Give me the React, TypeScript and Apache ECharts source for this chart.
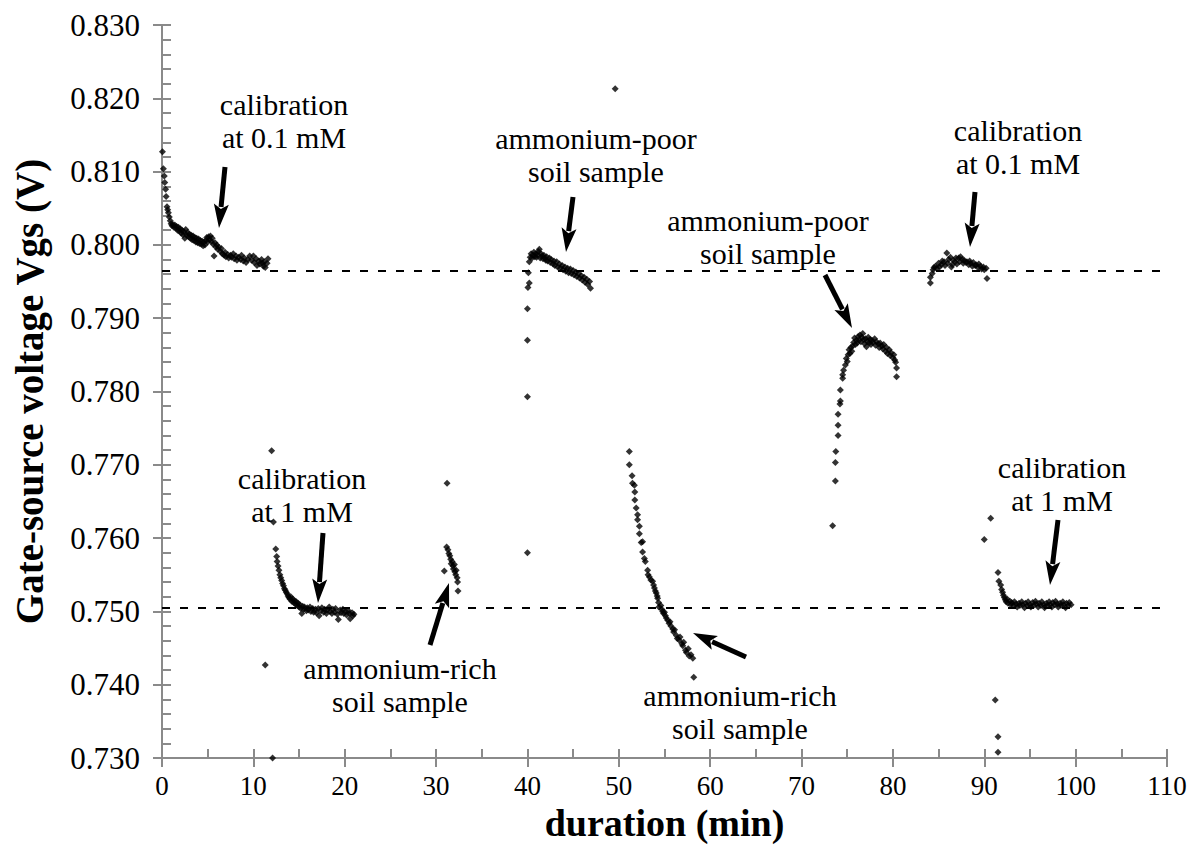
import React, { useEffect, useRef } from "react";
import * as echarts from "echarts";

// duration (min), Vgs (V)
const segCal01a: number[][] = [
  [0.05,0.8127],[0.15,0.8104],[0.25,0.8094],[0.3,0.8085],[0.4,0.8076],[0.45,0.8066],[0.55,0.8052],[0.62,0.8048],[0.7,0.8044],[0.8,0.8038],[0.9,0.8033],[1.0,0.8029],[1.1,0.8026],[1.2,0.8028],[1.3,0.8024],[1.4,0.8027],[1.5,0.8023],[1.6,0.8025],[1.7,0.8020],[1.8,0.8024],[1.9,0.8019],[2.0,0.8022],[2.1,0.8016],[2.2,0.8020],[2.3,0.8014],[2.4,0.8018],[2.5,0.8009],[2.6,0.8021],[2.7,0.8013],[2.8,0.8017],[2.9,0.8011],[3.0,0.8015],[3.1,0.8009],[3.2,0.8013],[3.3,0.8007],[3.4,0.8012],[3.5,0.8006],[3.6,0.8010],[3.7,0.8004],[3.8,0.8009],[3.9,0.8003],[4.0,0.8008],[4.1,0.8002],[4.2,0.8006],[4.3,0.8001],[4.4,0.8005],[4.5,0.7999],[4.6,0.8004],[4.7,0.8000],[4.8,0.8006],[4.9,0.8010],[5.0,0.8004],[5.1,0.8011],[5.2,0.8007],[5.3,0.8012],[5.4,0.8005],[5.5,0.8009],[5.6,0.8001],[5.7,0.7985],[5.8,0.8003],[5.9,0.7997],[6.0,0.8000],[6.1,0.7994],[6.2,0.7997],[6.4,0.7991],[6.5,0.7995],[6.6,0.7988],[6.8,0.7986],[6.9,0.7990],[7.0,0.7984],[7.2,0.7987],[7.3,0.7982],[7.5,0.7986],[7.6,0.7983],[7.8,0.7988],[7.9,0.7981],[8.1,0.7985],[8.2,0.7979],[8.4,0.7983],[8.6,0.7980],[8.7,0.7986],[8.9,0.7978],[9.0,0.7982],[9.2,0.7976],[9.4,0.7980],[9.6,0.7985],[9.8,0.7979],[10.0,0.7985],[10.1,0.7976],[10.3,0.7981],[10.4,0.7972],[10.6,0.7978],[10.7,0.7974],[10.9,0.7980],[11.0,0.7975],[11.1,0.7971],[11.2,0.7977],[11.3,0.7969],[11.5,0.7975],[11.6,0.7981]
];
const segCal1a: number[][] = [
  [11.3,0.7427],[12.0,0.7719],[12.1,0.7300],[12.2,0.7622],[12.45,0.7585],[12.55,0.7575],[12.6,0.7568],[12.7,0.7562],[12.8,0.7556],[12.9,0.7550],[13.0,0.7546],[13.1,0.7542],[13.2,0.7538],[13.3,0.7535],[13.4,0.7531],[13.5,0.7529],[13.6,0.7526],[13.7,0.7524],[13.8,0.7521],[13.9,0.7519],[14.0,0.7517],[14.1,0.7520],[14.2,0.7514],[14.3,0.7517],[14.4,0.7512],[14.5,0.7515],[14.6,0.7510],[14.7,0.7513],[14.8,0.7508],[14.9,0.7511],[15.0,0.7506],[15.1,0.7509],[15.2,0.7504],[15.3,0.7497],[15.4,0.7507],[15.5,0.7503],[15.6,0.7506],[15.8,0.7501],[15.9,0.7505],[16.0,0.7502],[16.2,0.7506],[16.3,0.7500],[16.5,0.7504],[16.6,0.7499],[16.8,0.7503],[16.9,0.7498],[17.1,0.7504],[17.2,0.7494],[17.4,0.7501],[17.5,0.7505],[17.7,0.7499],[17.8,0.7503],[18.0,0.7497],[18.1,0.7502],[18.3,0.7506],[18.4,0.7500],[18.6,0.7497],[18.7,0.7503],[18.9,0.7499],[19.0,0.7504],[19.2,0.7496],[19.3,0.7489],[19.5,0.7502],[19.6,0.7498],[19.8,0.7503],[19.9,0.7497],[20.1,0.7500],[20.2,0.7495],[20.4,0.7501],[20.5,0.7497],[20.6,0.7490],[20.8,0.7498],[20.9,0.7494],[21.0,0.7496]
];
const segRichA: number[][] = [
  [31.2,0.7675],[31.15,0.7588],[31.3,0.7584],[31.4,0.7579],[30.9,0.7555],[31.5,0.7576],[31.6,0.7571],[31.65,0.7565],[31.75,0.7568],[31.85,0.7562],[31.9,0.7558],[32.0,0.7564],[32.05,0.7554],[32.15,0.7550],[32.2,0.7556],[32.3,0.7546],[32.35,0.7540],[32.4,0.7528]
];
const segPoorA: number[][] = [
  [40.0,0.7580],[40.0,0.7793],[40.0,0.7870],[40.0,0.7913],[40.05,0.7942],[40.2,0.7948],[40.1,0.7962],[40.2,0.7977],[40.3,0.7983],[40.4,0.7988],[40.5,0.7982],[40.6,0.7986],[40.7,0.7990],[40.8,0.7984],[40.9,0.7988],[41.0,0.7983],[41.1,0.7987],[41.2,0.7991],[41.3,0.7994],[41.4,0.7982],[41.5,0.7988],[41.6,0.7985],[41.7,0.7981],[41.8,0.7986],[41.9,0.7982],[42.0,0.7979],[42.1,0.7984],[42.2,0.7978],[42.4,0.7982],[42.5,0.7976],[42.6,0.7980],[42.8,0.7974],[42.9,0.7978],[43.0,0.7972],[43.2,0.7977],[43.3,0.7970],[43.5,0.7974],[43.6,0.7968],[43.8,0.7972],[43.9,0.7966],[44.1,0.7970],[44.2,0.7964],[44.4,0.7968],[44.5,0.7962],[44.7,0.7967],[44.8,0.7961],[45.0,0.7965],[45.1,0.7959],[45.3,0.7963],[45.4,0.7957],[45.6,0.7961],[45.7,0.7955],[45.9,0.7958],[46.0,0.7952],[46.2,0.7956],[46.3,0.7949],[46.5,0.7953],[46.6,0.7946],[46.8,0.7950],[46.9,0.7941],
  [49.6,0.8213]
];
const segRichB: number[][] = [
  [51.15,0.7718],[51.15,0.7700],[51.45,0.7685],[51.5,0.7675],[51.7,0.7672],[51.75,0.7663],[51.75,0.7652],[51.9,0.7641],[52.05,0.7632],[52.05,0.7625],[52.25,0.7616],[52.25,0.7606],[52.45,0.7594],[52.6,0.7595],[52.6,0.7581],[52.8,0.7572],[52.9,0.7568],[53.15,0.7556],[53.2,0.7550],[53.35,0.7547],[53.5,0.7543],[53.7,0.7541],[53.8,0.7536],[53.9,0.7532],[54.0,0.7528],[54.1,0.7525],[54.2,0.7521],[54.25,0.7518],[54.35,0.7512],[54.4,0.7506],[54.6,0.7508],[54.7,0.7503],[54.8,0.7500],[54.9,0.7497],[55.0,0.7499],[55.1,0.7494],[55.2,0.7491],[55.35,0.7488],[55.5,0.7484],[55.6,0.7486],[55.7,0.7480],[55.9,0.7476],[56.0,0.7472],[56.1,0.7475],[56.3,0.7467],[56.4,0.7463],[56.6,0.7461],[56.7,0.7465],[56.9,0.7456],[57.0,0.7453],[57.1,0.7458],[57.3,0.7447],[57.4,0.7444],[57.6,0.7449],[57.7,0.7439],[57.9,0.7441],[58.1,0.7436],[58.2,0.7410]
];
const segPoorB: number[][] = [
  [73.4,0.7617],[73.7,0.7678],[73.7,0.7703],[73.75,0.7718],[74.0,0.7740],[74.0,0.7754],[74.0,0.7769],[74.2,0.7783],[74.25,0.7787],[74.25,0.7802],[74.5,0.7818],[74.5,0.7823],[74.6,0.7829],[74.8,0.7836],[74.9,0.7845],[75.0,0.7841],[75.1,0.7850],[75.2,0.7857],[75.3,0.7852],[75.4,0.7860],[75.5,0.7855],[75.6,0.7862],[75.7,0.7867],[75.8,0.7873],[75.9,0.7864],[76.0,0.7870],[76.1,0.7866],[76.2,0.7875],[76.3,0.7870],[76.4,0.7877],[76.5,0.7868],[76.6,0.7874],[76.7,0.7879],[76.8,0.7871],[76.9,0.7865],[77.0,0.7872],[77.1,0.7861],[77.2,0.7868],[77.3,0.7874],[77.4,0.7866],[77.5,0.7871],[77.6,0.7864],[77.7,0.7870],[77.8,0.7867],[78.0,0.7872],[78.1,0.7863],[78.2,0.7868],[78.4,0.7865],[78.5,0.7860],[78.6,0.7866],[78.8,0.7862],[78.9,0.7858],[79.0,0.7864],[79.2,0.7855],[79.3,0.7860],[79.4,0.7852],[79.6,0.7857],[79.7,0.7849],[79.8,0.7853],[80.0,0.7846],[80.1,0.7850],[80.2,0.7843],[80.3,0.7840],[80.4,0.7832],[80.4,0.7820]
];
const segCal01b: number[][] = [
  [84.1,0.7956],[84.1,0.7948],[84.3,0.7961],[84.4,0.7966],[84.5,0.7969],[84.65,0.7971],[84.8,0.7968],[85.0,0.7975],[85.1,0.7970],[85.3,0.7973],[85.4,0.7978],[85.6,0.7977],[85.7,0.7972],[85.9,0.7989],[86.0,0.7975],[86.1,0.7980],[86.3,0.7983],[86.4,0.7970],[86.5,0.7973],[86.6,0.7979],[86.8,0.7977],[86.9,0.7982],[87.0,0.7974],[87.2,0.7982],[87.3,0.7977],[87.4,0.7984],[87.6,0.7980],[87.7,0.7975],[87.8,0.7979],[88.0,0.7976],[88.1,0.7977],[88.3,0.7973],[88.4,0.7978],[88.5,0.7975],[88.7,0.7971],[88.8,0.7976],[89.0,0.7972],[89.1,0.7973],[89.3,0.7969],[89.4,0.7974],[89.6,0.7971],[89.7,0.7967],[89.9,0.7970],[90.0,0.7966],[90.2,0.7968],[90.3,0.7954]
];
const segCal1b: number[][] = [
  [90.0,0.7598],[90.7,0.7627],[91.2,0.7379],[91.5,0.7329],[91.5,0.7308],[91.5,0.7553],[91.6,0.7541],[91.8,0.7536],[91.9,0.7530],[92.0,0.7526],[92.1,0.7522],[92.2,0.7519],[92.3,0.7516],[92.4,0.7513],[92.5,0.7517],[92.6,0.7511],[92.8,0.7514],[92.9,0.7509],[93.0,0.7512],[93.2,0.7508],[93.3,0.7513],[93.5,0.7510],[93.6,0.7506],[93.8,0.7511],[93.9,0.7508],[94.1,0.7513],[94.2,0.7509],[94.4,0.7505],[94.5,0.7511],[94.7,0.7508],[94.8,0.7513],[95.0,0.7509],[95.1,0.7506],[95.3,0.7512],[95.4,0.7508],[95.6,0.7514],[95.7,0.7510],[95.9,0.7506],[96.0,0.7511],[96.2,0.7508],[96.3,0.7513],[96.5,0.7509],[96.6,0.7505],[96.8,0.7511],[96.9,0.7508],[97.1,0.7513],[97.2,0.7509],[97.4,0.7506],[97.5,0.7512],[97.7,0.7509],[97.8,0.7514],[98.0,0.7510],[98.1,0.7506],[98.3,0.7511],[98.4,0.7508],[98.6,0.7513],[98.7,0.7509],[98.9,0.7505],[99.0,0.7511],[99.2,0.7508],[99.3,0.7512],[99.5,0.7509]
];
const referenceLevels: number[] = [0.7965, 0.7505];

// annotation texts (centre of first line in px) and arrows (tail -> tip in px)
const labels: { lines: string[]; x: number; y: number }[] = [
  { lines: ["calibration", "at 0.1 mM"], x: 284, y: 104 },
  { lines: ["calibration", "at 1 mM"], x: 302, y: 478 },
  { lines: ["ammonium-rich", "soil sample"], x: 400, y: 668 },
  { lines: ["ammonium-poor", "soil sample"], x: 596, y: 138 },
  { lines: ["ammonium-poor", "soil sample"], x: 768, y: 220 },
  { lines: ["calibration", "at 0.1 mM"], x: 1018, y: 130 },
  { lines: ["ammonium-rich", "soil sample"], x: 740, y: 695 },
  { lines: ["calibration", "at 1 mM"], x: 1062, y: 467 },
];
const arrows: number[][] = [
  [225, 167, 219, 228],
  [323, 533, 318, 603],
  [430, 645, 449, 583],
  [573, 197, 566, 252],
  [825, 275, 852, 328],
  [975, 192, 970, 247],
  [746, 657, 693, 633],
  [1058, 520, 1050, 585],
];

const FONT = "Liberation Serif, Times New Roman, serif";
const AXIS_GRAY = "#8a8a8a";

function arrowGraphic(a: number[]) {
  const [x1, y1, x2, y2] = a;
  const dx = x2 - x1, dy = y2 - y1;
  const len = Math.sqrt(dx * dx + dy * dy);
  const ux = dx / len, uy = dy / len;
  const headLen = 24, headHalf = 7.5;
  const bx = x2 - ux * headLen, by = y2 - uy * headLen;
  const px = -uy, py = ux;
  return {
    type: "group",
    children: [
      { type: "line", shape: { x1, y1, x2: bx + ux * 3, y2: by + uy * 3 }, style: { stroke: "#000", lineWidth: 5 } },
      {
        type: "polygon",
        shape: { points: [[x2, y2], [bx + px * headHalf, by + py * headHalf], [bx + ux * 5, by + uy * 5], [bx - px * headHalf, by - py * headHalf]] },
        style: { fill: "#000" },
      },
    ],
  };
}

export default function App() {
  const ref = useRef<HTMLDivElement>(null);
  useEffect(() => {
    document.body.style.margin = "0";
    const chart = echarts.init(ref.current!, null, { renderer: "svg" });
    const gridRect = { left: 162, right: 25, top: 25, bottom: 93 };
    const mkSeries = (data: number[][], extra: any = {}) => ({
      type: "scatter",
      xAxisIndex: 0,
      yAxisIndex: 0,
      data,
      symbol: "diamond",
      symbolSize: 7,
      itemStyle: { color: "#000" },
      silent: true,
      ...extra,
    });
    const graphics: any[] = [];
    labels.forEach((l) => {
      l.lines.forEach((t, i) => {
        graphics.push({
          type: "text",
          style: { text: t, x: l.x, y: l.y + i * 33, align: "center", verticalAlign: "middle", font: `30px ${FONT}`, fill: "#000" },
        });
      });
    });
    arrows.forEach((a) => graphics.push(arrowGraphic(a)));

    chart.setOption({
      animation: false,
      backgroundColor: "#fff",
      grid: [
        { ...gridRect },
        { ...gridRect },
      ],
      xAxis: [
        {
          gridIndex: 0,
          type: "value",
          min: 0,
          max: 110,
          interval: 10,
          axisLine: { show: true, lineStyle: { color: AXIS_GRAY, width: 2 } },
          axisTick: { show: true, length: 9, lineStyle: { color: AXIS_GRAY, width: 2 } },
          axisLabel: { fontFamily: FONT, fontSize: 27, color: "#000", margin: 14 },
          splitLine: { show: false },
          name: "duration (min)",
          nameLocation: "middle",
          nameGap: 45,
          nameTextStyle: { fontFamily: FONT, fontSize: 38, fontWeight: "bold", color: "#000" },
        },
        {
          gridIndex: 1,
          type: "value",
          position: "bottom",
          min: 0,
          max: 110,
          interval: 10,
          axisLine: { show: true, lineStyle: { color: AXIS_GRAY, width: 2 } },
          axisTick: { show: true, inside: true, length: 9, lineStyle: { color: AXIS_GRAY, width: 2 } },
          minorTick: { show: true, splitNumber: 2, length: 9, lineStyle: { color: AXIS_GRAY, width: 2 } },
          axisLabel: { show: false },
          splitLine: { show: false },
        },
      ],
      yAxis: [
        {
          gridIndex: 0,
          type: "value",
          min: 0.73,
          max: 0.83,
          interval: 0.01,
          axisLine: { show: true, lineStyle: { color: AXIS_GRAY, width: 2 } },
          axisTick: { show: true, length: 9, lineStyle: { color: AXIS_GRAY, width: 2 } },
          axisLabel: { fontFamily: FONT, fontSize: 31, color: "#000", margin: 22, formatter: (v: number) => v.toFixed(3) },
          splitLine: { show: false },
          name: "Gate-source voltage Vgs (V)",
          nameLocation: "middle",
          nameGap: 113,
          nameTextStyle: { fontFamily: FONT, fontSize: 39, fontWeight: "bold", color: "#000" },
        },
        {
          gridIndex: 1,
          type: "value",
          position: "left",
          min: 0.73,
          max: 0.83,
          interval: 0.01,
          axisLine: { show: true, lineStyle: { color: AXIS_GRAY, width: 2 } },
          axisTick: { show: true, inside: true, length: 9, lineStyle: { color: AXIS_GRAY, width: 2 } },
          minorTick: { show: true, splitNumber: 5, length: 9, lineStyle: { color: AXIS_GRAY, width: 2 } },
          axisLabel: { show: false },
          splitLine: { show: false },
        },
      ],
      series: [
        mkSeries(segCal01a, {
          markLine: {
            silent: true,
            symbol: "none",
            precision: 4,
            label: { show: false },
            lineStyle: { color: "#000", type: [8, 10], width: 2 },
            data: referenceLevels.map((v) => ({ yAxis: v })),
          },
        }),
        mkSeries(segCal1a),
        mkSeries(segRichA),
        mkSeries(segPoorA),
        mkSeries(segRichB),
        mkSeries(segPoorB),
        mkSeries(segCal01b),
        mkSeries(segCal1b),
      ],
      graphic: graphics,
    });
    return () => chart.dispose();
  }, []);
  return <div ref={ref} style={{ width: 1192, height: 851 }} />;
}
